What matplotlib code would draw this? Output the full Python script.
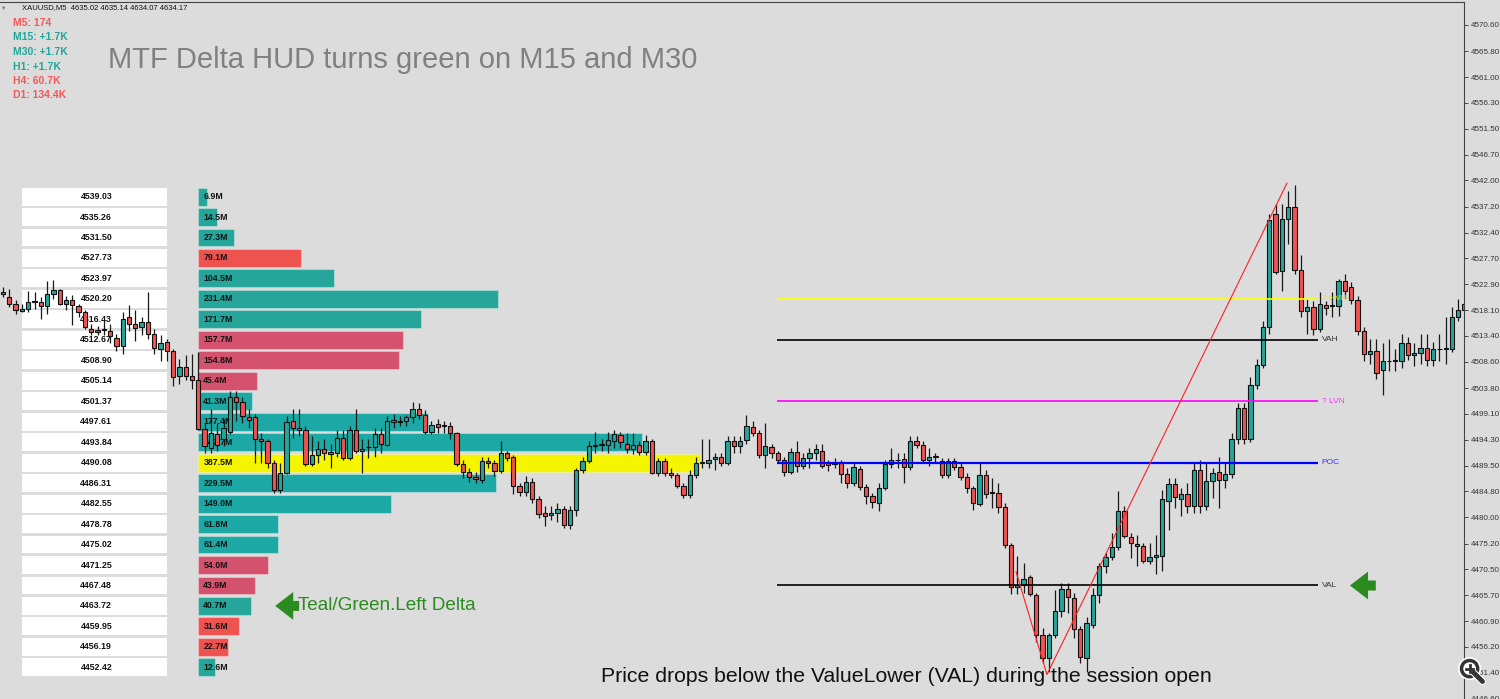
import numpy as np
import matplotlib.pyplot as plt
from matplotlib.patches import Circle
import matplotlib.patheffects as pe

plt.rcParams['font.family'] = ['Liberation Sans', 'DejaVu Sans']

# XAUUSD M5 candles, left to right
opens = [4521.5, 4520.6, 4519.3, 4518.0, 4518.4, 4519.7, 4519.7, 4518.9, 4521.1, 4521.9,
         4519.3, 4520.0, 4518.9, 4517.8, 4514.7, 4514.2, 4514.5, 4514.3, 4513.1, 4511.6,
         4516.9, 4515.6, 4515.1, 4516.0, 4513.8, 4510.9, 4512.3, 4510.7, 4506.1, 4507.7,
         4506.1, 4505.2, 4496.2, 4492.7, 4495.3, 4494.5, 4495.8, 4502.1, 4501.3, 4498.4,
         4498.4, 4494.5, 4494.0, 4490.1, 4485.0, 4488.1, 4497.7, 4496.4, 4496.0, 4489.8,
         4491.4, 4492.5, 4492.0, 4491.8, 4494.7, 4490.9, 4496.0, 4492.2, 4492.9, 4492.9,
         4495.3, 4493.4, 4498.0, 4497.5, 4497.7, 4498.4, 4499.9, 4498.8, 4495.8, 4497.1,
         4496.8, 4496.8, 4495.5, 4489.8, 4488.3, 4487.4, 4486.9, 4490.3, 4490.0, 4488.5,
         4491.8, 4491.1, 4485.8, 4484.6, 4486.5, 4483.4, 4480.8, 4480.4, 4480.8, 4481.5,
         4478.6, 4481.3, 4488.7, 4490.3, 4493.1, 4493.3, 4493.3, 4494.0, 4495.1, 4493.6,
         4492.5, 4493.3, 4492.0, 4494.0, 4488.1, 4490.3, 4488.1, 4487.8, 4485.8, 4484.1,
         4487.8, 4490.0, 4490.0, 4490.7, 4491.1, 4490.1, 4494.0, 4493.1, 4494.2, 4496.6,
         4495.6, 4491.4, 4492.9, 4491.8, 4490.5, 4488.3, 4492.0, 4489.4, 4490.9, 4491.8,
         4492.3, 4490.0, 4489.9, 4490.0, 4488.0, 4486.3, 4488.9, 4485.6, 4483.9, 4482.6,
         4485.4, 4489.8, 4490.5, 4490.7, 4489.2, 4494.0, 4493.3, 4490.5, 4491.1, 4490.3,
         4487.8, 4490.3, 4489.2, 4487.4, 4485.4, 4482.5, 4487.8, 4484.5, 4484.5, 4481.9,
         4474.9, 4467.2, 4467.6, 4469.1, 4465.8, 4458.4, 4454.2, 4458.3, 4462.7, 4466.9,
         4465.2, 4459.4, 4454.2, 4460.3, 4465.8, 4471.1, 4472.7, 4474.6, 4481.2, 4476.4,
         4475.1, 4474.7, 4472.0, 4472.7, 4472.9, 4483.0, 4486.1, 4483.4, 4484.3, 4482.1,
         4488.7, 4482.1, 4486.7, 4488.3, 4486.9, 4488.0, 4494.5, 4500.2, 4494.5, 4504.3,
         4508.1, 4515.1, 4535.8, 4525.3, 4534.9, 4537.1, 4525.5, 4518.0, 4518.7, 4514.7,
         4519.1, 4518.9, 4518.9, 4523.5, 4522.4, 4520.0, 4514.3, 4510.1, 4510.7, 4507.2,
         4508.7, 4508.7, 4508.8, 4512.1, 4509.8, 4510.3, 4511.2, 4509.0, 4510.9, 4510.9,
         4511.0, 4516.9, 4518.2]
highs = [4522.4, 4522.0, 4520.0, 4519.3, 4521.7, 4521.5, 4520.6, 4523.5, 4523.7, 4522.0,
         4520.8, 4520.9, 4519.3, 4518.2, 4515.6, 4515.3, 4516.2, 4515.6, 4513.8, 4517.8,
         4519.1, 4518.2, 4516.9, 4521.5, 4514.7, 4513.6, 4512.9, 4511.0, 4509.2, 4509.9,
         4510.1, 4510.5, 4497.3, 4500.0, 4497.3, 4498.2, 4503.3, 4503.3, 4502.2, 4500.0,
         4499.1, 4495.5, 4494.5, 4490.5, 4490.0, 4498.6, 4499.9, 4500.0, 4496.8, 4494.9,
         4494.0, 4494.5, 4493.6, 4496.0, 4496.0, 4496.8, 4500.0, 4494.5, 4494.5, 4496.4,
         4496.4, 4498.6, 4499.1, 4498.6, 4498.8, 4501.2, 4501.0, 4499.7, 4497.8, 4498.2,
         4497.8, 4497.5, 4495.8, 4490.5, 4489.1, 4488.3, 4491.2, 4491.2, 4490.5, 4494.0,
         4492.3, 4491.4, 4486.3, 4487.6, 4487.2, 4483.9, 4482.1, 4482.1, 4482.6, 4482.1,
         4482.1, 4489.1, 4491.2, 4494.0, 4495.8, 4494.5, 4495.8, 4496.0, 4495.8, 4495.5,
         4495.5, 4494.0, 4495.1, 4494.5, 4490.9, 4490.9, 4489.1, 4488.1, 4486.3, 4488.7,
         4491.2, 4494.5, 4494.5, 4491.8, 4491.8, 4494.9, 4494.9, 4494.9, 4498.8, 4497.7,
         4496.0, 4497.3, 4493.6, 4492.3, 4491.2, 4492.7, 4494.0, 4491.8, 4492.7, 4493.6,
         4493.6, 4490.5, 4490.9, 4490.5, 4489.1, 4490.0, 4489.4, 4486.1, 4484.5, 4486.3,
         4490.5, 4492.7, 4491.8, 4491.8, 4494.9, 4494.9, 4494.0, 4492.7, 4491.8, 4490.9,
         4490.9, 4490.9, 4490.0, 4488.1, 4485.8, 4490.0, 4488.7, 4487.2, 4486.3, 4482.6,
         4475.3, 4472.9, 4471.6, 4469.4, 4466.1, 4459.7, 4458.8, 4466.7, 4468.0, 4468.0,
         4466.1, 4460.1, 4461.6, 4467.1, 4471.6, 4473.5, 4477.1, 4484.8, 4482.1, 4477.1,
         4476.8, 4475.3, 4475.3, 4476.8, 4485.0, 4487.2, 4487.2, 4485.4, 4486.3, 4490.0,
         4490.5, 4490.0, 4489.1, 4491.2, 4490.0, 4495.5, 4501.0, 4501.0, 4505.9, 4509.2,
         4516.2, 4535.8, 4537.6, 4537.6, 4540.0, 4541.1, 4528.3, 4520.2, 4519.8, 4521.5,
         4519.8, 4521.5, 4523.9, 4524.8, 4523.3, 4520.8, 4515.1, 4512.9, 4512.9, 4512.0,
         4512.9, 4511.0, 4513.8, 4513.2, 4512.0, 4513.8, 4513.8, 4512.3, 4513.8, 4516.9,
         4518.7, 4520.2, 4520.6]
lows = [4520.6, 4518.7, 4517.5, 4517.8, 4517.8, 4518.4, 4516.5, 4517.5, 4520.2, 4519.1,
        4518.2, 4515.4, 4516.9, 4514.7, 4513.6, 4513.6, 4513.6, 4512.0, 4510.7, 4510.1,
        4514.3, 4512.5, 4513.6, 4512.9, 4510.1, 4508.7, 4508.8, 4504.1, 4504.6, 4505.2,
        4503.7, 4496.0, 4491.8, 4491.8, 4492.3, 4493.1, 4495.3, 4497.7, 4497.3, 4496.4,
        4490.0, 4490.0, 4489.1, 4484.5, 4484.5, 4488.0, 4494.7, 4494.9, 4489.4, 4489.4,
        4490.0, 4490.5, 4489.1, 4491.2, 4490.5, 4490.5, 4491.8, 4488.1, 4490.9, 4491.2,
        4491.8, 4493.1, 4496.4, 4496.8, 4496.8, 4497.3, 4498.2, 4495.3, 4495.3, 4495.6,
        4495.6, 4494.5, 4489.4, 4487.2, 4486.5, 4486.3, 4486.3, 4489.1, 4487.6, 4488.1,
        4490.3, 4484.3, 4483.9, 4483.9, 4482.6, 4479.9, 4478.4, 4479.5, 4479.2, 4478.1,
        4477.9, 4480.3, 4488.1, 4490.0, 4491.8, 4492.3, 4491.8, 4492.7, 4492.7, 4491.8,
        4491.6, 4491.4, 4491.4, 4488.0, 4487.6, 4487.6, 4487.2, 4485.4, 4483.6, 4483.6,
        4487.2, 4489.1, 4489.1, 4488.7, 4489.4, 4489.6, 4491.8, 4491.8, 4493.6, 4494.9,
        4490.9, 4489.1, 4490.9, 4490.0, 4487.6, 4488.0, 4488.3, 4488.9, 4489.1, 4490.5,
        4489.1, 4488.5, 4489.1, 4486.3, 4485.4, 4485.8, 4485.0, 4482.5, 4481.7, 4481.2,
        4485.0, 4489.1, 4489.1, 4486.3, 4488.7, 4492.7, 4490.0, 4489.4, 4490.0, 4487.2,
        4487.2, 4488.7, 4486.9, 4484.5, 4481.3, 4482.1, 4483.6, 4481.7, 4480.8, 4474.4,
        4466.0, 4466.0, 4466.1, 4465.6, 4457.0, 4453.3, 4451.5, 4457.9, 4461.6, 4462.5,
        4457.9, 4453.3, 4451.5, 4459.7, 4464.3, 4469.8, 4472.2, 4474.0, 4476.2, 4472.5,
        4471.1, 4471.6, 4471.4, 4469.6, 4470.2, 4477.7, 4481.7, 4480.3, 4480.8, 4480.8,
        4480.8, 4481.3, 4483.6, 4481.7, 4485.4, 4487.2, 4493.6, 4493.6, 4493.8, 4503.7,
        4507.4, 4513.8, 4524.8, 4521.7, 4530.3, 4524.8, 4516.9, 4513.8, 4513.6, 4514.2,
        4517.3, 4516.9, 4517.1, 4520.2, 4519.3, 4513.6, 4508.8, 4508.3, 4505.5, 4502.6,
        4507.0, 4507.0, 4507.4, 4508.9, 4507.9, 4508.3, 4507.8, 4507.8, 4508.8, 4508.3,
        4510.5, 4516.2, 4516.9]
closes = [4521.1, 4519.3, 4518.2, 4518.4, 4519.7, 4519.8, 4518.9, 4521.1, 4521.9, 4519.3,
          4520.0, 4519.1, 4517.8, 4515.1, 4514.2, 4514.5, 4514.5, 4513.4, 4511.6, 4516.5,
          4515.6, 4514.9, 4516.0, 4513.8, 4511.2, 4512.1, 4510.7, 4505.9, 4507.7, 4506.1,
          4505.2, 4496.2, 4493.1, 4495.5, 4493.3, 4496.4, 4502.1, 4501.3, 4498.6, 4498.0,
          4494.4, 4494.0, 4490.1, 4485.0, 4488.1, 4497.5, 4496.4, 4496.0, 4489.8, 4491.4,
          4492.5, 4491.8, 4491.6, 4494.7, 4490.9, 4496.0, 4492.3, 4492.5, 4492.9, 4495.3,
          4493.6, 4497.8, 4497.5, 4497.8, 4498.4, 4499.9, 4498.8, 4495.8, 4497.0, 4496.6,
          4496.8, 4495.5, 4489.8, 4488.3, 4487.4, 4487.0, 4490.3, 4490.0, 4488.5, 4491.8,
          4490.9, 4485.8, 4484.6, 4486.5, 4483.4, 4480.6, 4480.3, 4480.8, 4481.5, 4478.6,
          4481.3, 4488.7, 4490.3, 4493.1, 4493.3, 4493.3, 4494.2, 4495.3, 4493.8, 4492.5,
          4493.3, 4492.0, 4494.0, 4488.1, 4490.3, 4488.1, 4487.8, 4485.8, 4484.1, 4487.8,
          4490.0, 4490.0, 4490.5, 4491.1, 4490.0, 4494.0, 4493.1, 4494.0, 4496.8, 4495.6,
          4491.4, 4493.1, 4491.8, 4490.5, 4488.3, 4492.0, 4489.4, 4490.9, 4491.8, 4492.5,
          4489.4, 4489.6, 4489.9, 4488.0, 4486.3, 4489.2, 4485.6, 4483.9, 4482.8, 4485.4,
          4489.8, 4490.5, 4490.5, 4489.2, 4494.0, 4493.3, 4490.5, 4491.2, 4491.1, 4487.8,
          4490.3, 4489.2, 4487.4, 4485.4, 4482.6, 4487.8, 4484.3, 4484.5, 4481.9, 4474.9,
          4467.2, 4467.6, 4468.7, 4466.0, 4458.4, 4454.2, 4458.3, 4462.7, 4466.9, 4465.4,
          4459.5, 4454.4, 4460.5, 4465.8, 4471.1, 4472.7, 4474.6, 4481.2, 4476.6, 4475.3,
          4474.7, 4472.0, 4472.7, 4473.1, 4483.4, 4486.1, 4483.7, 4484.3, 4482.1, 4488.7,
          4482.1, 4486.7, 4488.1, 4486.9, 4488.0, 4494.5, 4500.2, 4494.5, 4504.3, 4508.1,
          4515.1, 4534.7, 4525.2, 4534.9, 4537.1, 4525.5, 4518.0, 4518.7, 4514.7, 4519.3,
          4518.6, 4518.9, 4523.5, 4521.7, 4520.0, 4514.3, 4510.1, 4510.7, 4506.6, 4508.7,
          4508.7, 4509.0, 4512.1, 4509.8, 4510.3, 4511.2, 4509.0, 4510.9, 4510.9, 4511.2,
          4516.9, 4518.2, 4519.3]

# volume profile
row_prices = [4539.03, 4535.26, 4531.50, 4527.73, 4523.97, 4520.20, 4516.43, 4512.67,
              4508.90, 4505.14, 4501.37, 4497.61, 4493.84, 4490.08, 4486.31, 4482.55,
              4478.78, 4475.02, 4471.25, 4467.48, 4463.72, 4459.95, 4456.19, 4452.42]
row_volumes = [6.9, 14.5, 27.3, 79.1, 104.5, 231.4, 171.7, 157.7,
               154.8, 45.4, 41.3, 177.4, 342.7, 387.5, 229.5, 149.0,
               61.8, 61.4, 54.0, 43.9, 40.7, 31.6, 22.7, 12.6]
row_sides = ['buy', 'buy', 'buy', 'sell', 'buy', 'buy', 'buy', 'sell',
             'sell', 'sell', 'buy', 'buy', 'buy', 'poc', 'buy', 'buy',
             'buy', 'buy', 'sell', 'sell', 'buy', 'sell', 'sell', 'buy']

level_names = ['? HVN', 'VAH', '? LVN', 'POC', 'VAL']
level_prices = [4520.20, 4512.67, 4501.37, 4490.08, 4467.48]
level_colors = ['#ffff00', '#000000', '#ff00ff', '#0000ff', '#000000']
level_text_colors = ['#e8e800', '#333333', '#ff33ff', '#3333ff', '#333333']

# hand drawn trend line
zig_x = [160.8, 165.7, 203.8]
zig_y = [4470.0, 4451.1, 4541.5]

y_ticks = [4570.60, 4565.80, 4561.00, 4556.30, 4551.50, 4546.70, 4542.00, 4537.20,
           4532.40, 4527.70, 4522.90, 4518.10, 4513.40, 4508.60, 4503.80, 4499.10,
           4494.30, 4489.50, 4484.80, 4480.00, 4475.20, 4470.50, 4465.70, 4460.90,
           4456.20, 4451.40, 4446.60]

hud_labels = ['M5: 174', 'M15: +1.7K', 'M30: +1.7K', 'H1: +1.7K', 'H4: 60.7K', 'D1: 134.4K']
hud_green = [False, True, True, True, False, False]

TEAL = '#26a69a'
RED = '#ef5350'
BG = '#dcdcdc'
W, H = 1500, 699

fig = plt.figure(figsize=(15, 6.99), dpi=100, facecolor=BG)
ax = fig.add_axes([0, 0, 1464 / W, 697 / H])
ax.set_facecolor(BG)
ax.set_xlim(-0.48, 231.9)
ax.set_ylim(4447.04, 4574.82)

px = 1 / 6.3  # index units per pixel

# price table on the left
ax.barh(row_prices, 145 * px, left=3.0, height=3.3, color='white', zorder=1)
for p in row_prices:
    ax.text(14.8, p, f'{p:.2f}', ha='center', va='center', fontsize=6.3,
            fontweight='bold', color='#111', zorder=2)

# profile bars
va_low, va_high = level_prices[4], level_prices[1]
bar_cols = []
for p, s in zip(row_prices, row_sides):
    inside = va_low <= p <= va_high
    if s == 'poc':
        bar_cols.append('#f5f500')
    elif s == 'buy':
        bar_cols.append('#1ca9a5' if inside else TEAL)
    else:
        bar_cols.append('#d4526e' if inside else RED)
vol_scale = 1.295 * px
ax.barh(row_prices, np.array(row_volumes) * vol_scale, left=31.0, height=3.3,
        color=bar_cols, edgecolor=(1, 1, 1, 0.3), linewidth=0.8, zorder=1)
for p, v in zip(row_prices, row_volumes):
    ax.text(31.8, p, f'{v:.1f}M', ha='left', va='center', fontsize=6.3,
            fontweight='bold', color='#111', zorder=2)

# candles
o = np.array(opens)
c = np.array(closes)
x = np.arange(len(o))
bull = c >= o
ax.vlines(x, lows, highs, color='#1a1a1a', lw=0.9, zorder=3)
ax.bar(x, np.maximum(np.abs(c - o), 0.12), bottom=np.minimum(o, c), width=0.68,
       color=np.where(bull, TEAL, RED), edgecolor='#111', linewidth=0.8, zorder=4)

# profile levels
for name, p, col, tcol in zip(level_names, level_prices, level_colors, level_text_colors):
    lw = 1.6 if name == 'POC' else 1.2
    ax.hlines(p, 122.9, 208.7, color=col, lw=lw, zorder=5)
    ax.text(209.3, p, name, ha='left', va='center', fontsize=6, color=tcol, zorder=6)

ax.plot(zig_x, zig_y, color='#ff2020', lw=0.8, zorder=6)

# green arrows + note
arrow = dict(arrowstyle='simple,head_length=0.65,head_width=1.0,tail_width=0.36',
             color='#2a8c1f', lw=0, mutation_scale=20, shrinkA=0, shrinkB=0)
ax.annotate('', xy=(43.2, row_prices[20]), xytext=(47.0, row_prices[20]),
            arrowprops=arrow, zorder=7)
ax.annotate('', xy=(213.8, level_prices[4]), xytext=(217.9, level_prices[4]),
            arrowprops=arrow, zorder=7)
ax.text(46.8, row_prices[20], 'Teal/Green.Left Delta', color='#2a8c1f',
        fontsize=13.6, va='center', zorder=7)

# axes look
ax.yaxis.tick_right()
ax.set_yticks(y_ticks)
ax.set_yticklabels([f'{t:.2f}' for t in y_ticks])
ax.tick_params(axis='y', direction='out', length=3, width=0.6, colors='#333',
               labelsize=5.8, pad=2)
ax.set_xticks([])
for side in ['left', 'bottom']:
    ax.spines[side].set_visible(False)
for side in ['right', 'top']:
    ax.spines[side].set_color('#444')
    ax.spines[side].set_linewidth(0.8)

# header and HUD
fig.text(1 / W, 1 - 8 / H, '\u25bc', fontsize=4, color='#777', va='center')
fig.text(22 / W, 1 - 8 / H, 'XAUUSD,M5  4635.02 4635.14 4634.07 4634.17',
         fontsize=5.5, color='#111', va='center')
for k, (lab, g) in enumerate(zip(hud_labels, hud_green)):
    fig.text(13 / W, 1 - (23 + 14.5 * k) / H, lab, fontsize=7.5, fontweight='bold',
             color='#1fa89a' if g else '#f05a5a', va='center')
fig.text(108 / W, 1 - 60 / H, 'MTF Delta HUD turns green on M15 and M30',
         fontsize=21, color='#808080', va='center')
fig.text(601 / W, 1 - 677 / H,
         'Price drops below the ValueLower (VAL) during the session open',
         fontsize=15.3, color='#111', va='center')

# zoom icon bottom right
zax = fig.add_axes([1457 / W, 1 - 686 / H, 30 / W, 30 / H])
zax.set_xlim(0, 1)
zax.set_ylim(0, 1)
zax.axis('off')
stroke = [pe.withStroke(linewidth=5, foreground='white')]
zax.plot([0.55, 0.85], [0.45, 0.15], color='#333', lw=3.5, solid_capstyle='round',
         path_effects=stroke)
zax.add_patch(Circle((0.42, 0.58), 0.27, facecolor='white', edgecolor='#333', lw=2.5,
                     path_effects=stroke))
zax.plot([0.30, 0.54], [0.58, 0.58], color='#333', lw=2)
zax.plot([0.42, 0.42], [0.46, 0.70], color='#333', lw=2)

fig.savefig('out.png', dpi=100, facecolor=BG)
